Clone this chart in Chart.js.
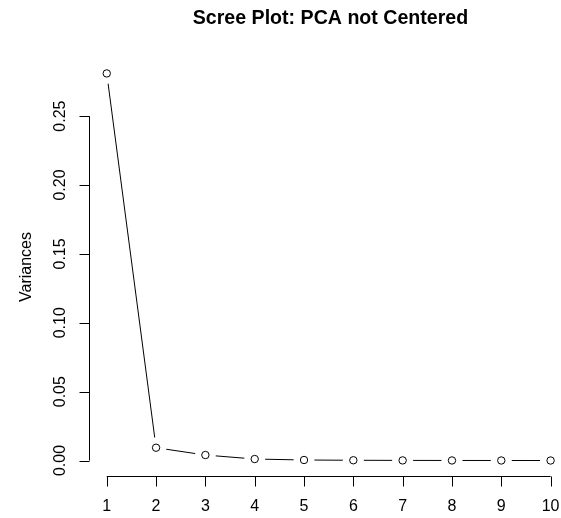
<!DOCTYPE html>
<html>
<head>
<meta charset="utf-8">
<script src="https://cdn.jsdelivr.net/npm/chart.js@4"></script>
<style>
  html, body { margin: 0; padding: 0; background: #ffffff; overflow: hidden; }
  canvas { display: block; }
</style>
</head>
<body>
<canvas id="scree" width="561" height="518"></canvas>
<script>
// Principal components and the variance each one explains
const components = [1, 2, 3, 4, 5, 6, 7, 8, 9, 10];
const variances = [0.281, 0.0093, 0.0040, 0.0011, 0.0004, 0.0002, 0.0001, 0.00006, 0.00004, 0.00002];

// Axis tick values and their printed labels
const xTicks = [1, 2, 3, 4, 5, 6, 7, 8, 9, 10];
const yTicks = [0, 0.05, 0.10, 0.15, 0.20, 0.25];
const yTickLabels = ['0.00', '0.05', '0.10', '0.15', '0.20', '0.25'];

const chartTitle = 'Scree Plot: PCA not Centered';
const yTitle = 'Variances';

const points = components.map((c, i) => ({ x: c, y: variances[i] }));

const FONT = '"Liberation Sans", Arial, Helvetica, sans-serif';

// Draws base-graphics style axes: lines spanning first to last tick, outward ticks, labels
const baseAxes = {
  id: 'baseAxes',
  afterDraw(chart) {
    const { ctx, chartArea } = chart;
    const xs = chart.scales.x;
    const ys = chart.scales.y;
    ctx.save();
    ctx.strokeStyle = '#000';
    ctx.fillStyle = '#000';
    ctx.lineWidth = 1;

    // x axis
    const axY = Math.round(chartArea.bottom) + 0.5;
    const x0 = xs.getPixelForValue(xTicks[0]);
    const x1 = xs.getPixelForValue(xTicks[xTicks.length - 1]);
    ctx.beginPath();
    ctx.moveTo(x0, axY);
    ctx.lineTo(x1, axY);
    xTicks.forEach(t => {
      const px = Math.round(xs.getPixelForValue(t)) + 0.5;
      ctx.moveTo(px, axY);
      ctx.lineTo(px, axY + 10);
    });
    ctx.stroke();
    ctx.font = '16px ' + FONT;
    ctx.textAlign = 'center';
    ctx.textBaseline = 'alphabetic';
    xTicks.forEach(t => {
      ctx.fillText(String(t), xs.getPixelForValue(t), 511);
    });

    // y axis
    const axX = Math.round(chartArea.left) + 0.5;
    const y0 = ys.getPixelForValue(yTicks[0]);
    const y1 = ys.getPixelForValue(yTicks[yTicks.length - 1]);
    ctx.beginPath();
    ctx.moveTo(axX, y0);
    ctx.lineTo(axX, y1);
    yTicks.forEach(t => {
      const py = Math.round(ys.getPixelForValue(t)) + 0.5;
      ctx.moveTo(axX, py);
      ctx.lineTo(axX - 10, py);
    });
    ctx.stroke();
    yTicks.forEach((t, i) => {
      ctx.save();
      ctx.translate(65, ys.getPixelForValue(t));
      ctx.rotate(-Math.PI / 2);
      ctx.textAlign = 'center';
      ctx.fillText(yTickLabels[i], 0, 0);
      ctx.restore();
    });

    // y axis title
    ctx.save();
    ctx.translate(30.5, (chartArea.top + chartArea.bottom) / 2);
    ctx.rotate(-Math.PI / 2);
    ctx.textAlign = 'center';
    ctx.fillText(yTitle, 0, 0);
    ctx.restore();

    // main title
    ctx.font = 'bold 19.6px ' + FONT;
    ctx.textAlign = 'center';
    ctx.fillText(chartTitle, 330.5, 24);
    ctx.restore();
  }
};

new Chart(document.getElementById('scree'), {
  type: 'line',
  data: {
    datasets: [
      {
        // connecting line
        data: points,
        borderColor: '#000',
        borderWidth: 1,
        tension: 0,
        pointRadius: 0,
        order: 3
      },
      {
        // white gap around each point, as in type = "b"
        data: points,
        showLine: false,
        pointRadius: 10.5,
        pointBackgroundColor: '#ffffff',
        pointBorderWidth: 0,
        pointBorderColor: '#ffffff',
        order: 2
      },
      {
        // open circle markers
        data: points,
        showLine: false,
        pointRadius: 3.7,
        pointBackgroundColor: '#ffffff',
        pointBorderColor: '#000',
        pointBorderWidth: 1,
        order: 1
      }
    ]
  },
  options: {
    responsive: false,
    animation: false,
    devicePixelRatio: 1,
    events: [],
    layout: { autoPadding: false, padding: { left: 89, right: 0, top: 58, bottom: 42 } },
    plugins: { legend: { display: false }, tooltip: { enabled: false }, title: { display: false } },
    scales: {
      x: { type: 'linear', display: false, min: 0.64, max: 10.211 },
      y: { type: 'linear', display: false, min: -0.01122, max: 0.2922 }
    }
  },
  plugins: [baseAxes]
});
</script>
</body>
</html>
